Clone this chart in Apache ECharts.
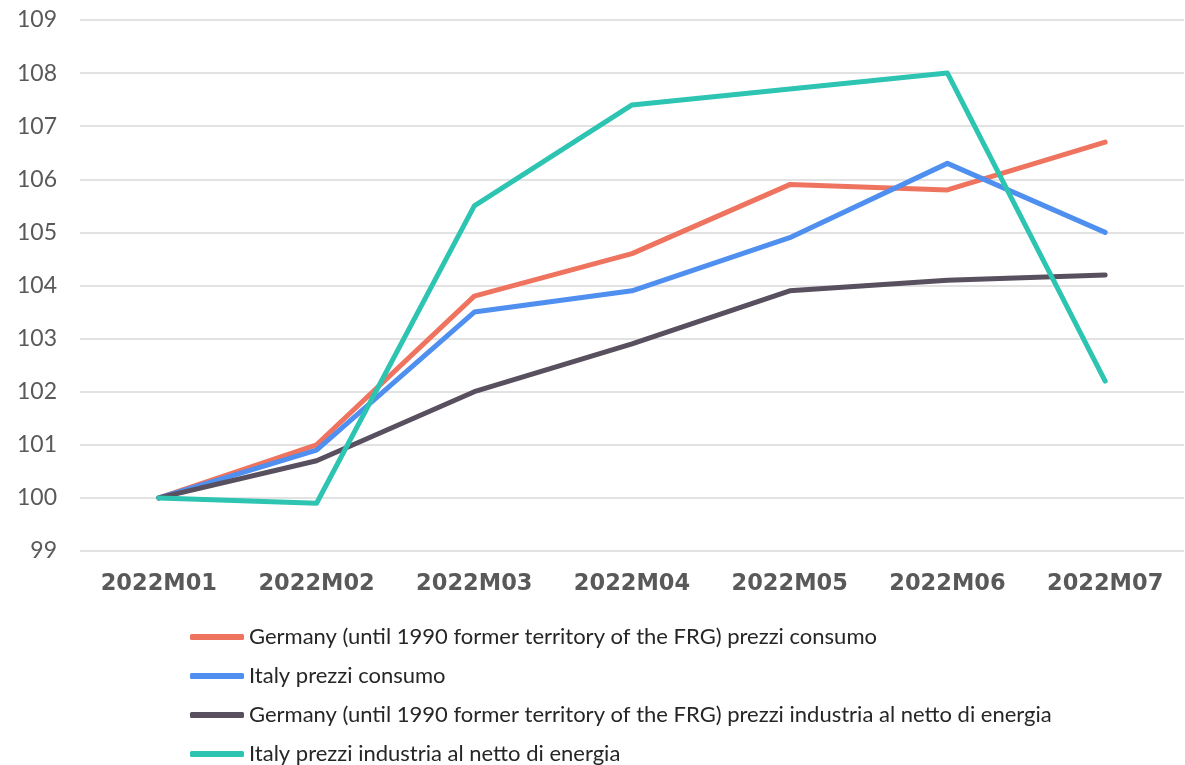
<!DOCTYPE html>
<html>
<head>
<meta charset="utf-8">
<script src="https://cdn.jsdelivr.net/npm/echarts@6/dist/echarts.min.js"></script>
<style>
  html, body { margin: 0; padding: 0; background: #fff; }
  #chart { width: 1185px; height: 765px; }
</style>
</head>
<body>
<div id="chart"></div>
<script>
const categories = ['2022M01', '2022M02', '2022M03', '2022M04', '2022M05', '2022M06', '2022M07'];
const seriesNames = [
  'Germany (until 1990 former territory of the FRG) prezzi consumo',
  'Italy prezzi consumo',
  'Germany (until 1990 former territory of the FRG) prezzi industria al netto di energia',
  'Italy prezzi industria al netto di energia'
];
const germanyConsumo = [100, 101.0, 103.8, 104.6, 105.9, 105.8, 106.7];
const italyConsumo = [100, 100.9, 103.5, 103.9, 104.9, 106.3, 105.0];
const germanyIndustria = [100, 100.7, 102.0, 102.9, 103.9, 104.1, 104.2];
const italyIndustria = [100, 99.9, 105.5, 107.4, 107.7, 108.0, 102.2];
const colors = ['#EF745F', '#4F8FEF', '#59505F', '#2DC4B2'];

const allData = [germanyConsumo, italyConsumo, germanyIndustria, italyIndustria];

const chart = echarts.init(document.getElementById('chart'));

const series = allData.map((d, i) => ({
  name: seriesNames[i],
  type: 'line',
  data: d,
  symbol: 'none',
  lineStyle: { width: 5, color: colors[i], cap: 'round', join: 'round' },
  itemStyle: { color: colors[i] }
}));

chart.setOption({
  animation: false,
  backgroundColor: '#fff',
  grid: { left: 80, right: 1, top: 20, bottom: 214 },
  legend: {
    orient: 'vertical',
    left: 190,
    top: 626,
    padding: 0,
    height: 140,
    icon: 'roundRect',
    itemWidth: 54,
    itemHeight: 6,
    itemGap: 17,
    data: seriesNames,
    textStyle: { fontFamily: 'Lato', fontSize: 22, color: '#262626', lineHeight: 22 }
  },
  xAxis: {
    type: 'category',
    data: categories,
    boundaryGap: true,
    axisLine: { show: false },
    axisTick: { show: false },
    axisLabel: {
      margin: 22,
      fontFamily: 'DejaVu Sans',
      fontWeight: 'bold',
      fontSize: 22.5,
      color: '#595959'
    }
  },
  yAxis: {
    type: 'value',
    min: 99,
    max: 109,
    interval: 1,
    axisLine: { show: false },
    axisTick: { show: false },
    splitLine: { lineStyle: { color: '#D9D9D9', width: 1.5 } },
    axisLabel: {
      margin: 23,
      fontFamily: 'Lato',
      fontSize: 23,
      color: '#595959'
    }
  },
  series
});
</script>
</body>
</html>
